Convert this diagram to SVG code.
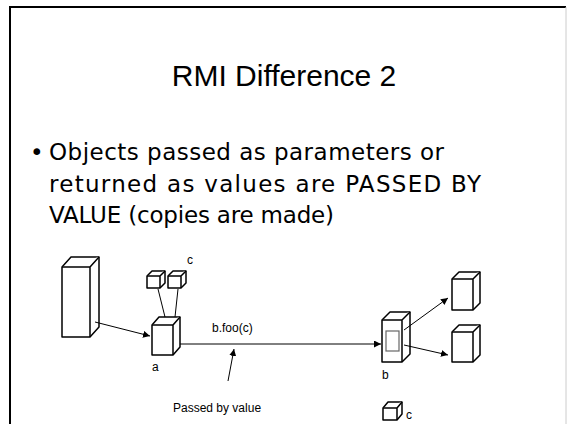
<svg xmlns="http://www.w3.org/2000/svg" width="569" height="424" viewBox="0 0 569 424">
  <style>
    .box { fill: #fff; stroke: #000; stroke-width: 1.5; stroke-linejoin: round; }
    .inner { fill: #fff; stroke: #666; stroke-width: 1.2; }
    .wire { fill: none; stroke: #000; stroke-width: 1; }
    .lbl { font-family: "Liberation Sans", Arial, sans-serif; font-size: 12px; fill: #000; }
    .title { font-family: "Liberation Sans", Arial, sans-serif; font-size: 30px; fill: #000; }
    .body { font-family: "DejaVu Sans", "Liberation Sans", sans-serif; font-size: 23px; fill: #000; }
  </style>
  <defs>
    <marker id="arrow" viewBox="0 0 10 10" refX="10" refY="5" markerWidth="7" markerHeight="7" markerUnits="userSpaceOnUse" orient="auto">
      <path d="M0,0 L10,5 L0,10 z" fill="#000"/>
    </marker>
  </defs>

  <rect width="569" height="424" fill="#fff"/>
  <!-- slide frame -->
  <path d="M10,424 L10,7 L566,7" fill="none" stroke="#000" stroke-width="2"/>
  <line x1="566" y1="7" x2="566" y2="424" stroke="#ccc" stroke-width="1"/>

  <g id="title">
    <text class="title" x="284" y="86" text-anchor="middle">RMI Difference 2</text>
  </g>

  <g id="bullets">
    <text class="body" x="30" y="160">•</text>
    <text class="body" x="49" y="160" textLength="395">Objects passed as parameters or</text>
    <text class="body" x="49" y="192" textLength="432">returned as values are PASSED BY</text>
    <text class="body" x="49" y="223" textLength="285">VALUE (copies are made)</text>
  </g>

  <!-- client box -->
  <g id="client">
    <path class="box" d="M62,267 L71,257 L99,257 L99,327 L90,337 L62,337 Z"/>
    <path class="box" d="M62,267 L90,267 L99,257 M90,267 L90,337"/>
  </g>

  <!-- stub a -->
  <g id="a">
    <path class="box" d="M152,325 L159,317 L180,317 L180,347 L173,355 L152,355 Z"/>
    <path class="box" d="M152,325 L173,325 L180,317 M173,325 L173,355"/>
    <text class="lbl" x="152" y="371">a</text>
  </g>

  <!-- argument objects c -->
  <g id="c-args">
    <path class="box" d="M147,276 L152,271 L165,271 L165,283 L160,288 L147,288 Z"/>
    <path class="box" d="M147,276 L160,276 L165,271 M160,276 L160,288"/>
    <path class="box" d="M168,276 L173,271 L186,271 L186,283 L181,288 L168,288 Z"/>
    <path class="box" d="M168,276 L181,276 L186,271 M181,276 L181,288"/>
    <text class="lbl" x="187" y="264">c</text>
  </g>

  <!-- skeleton b -->
  <g id="b">
    <path class="box" d="M382,320 L390,312 L410,312 L410,354 L402,362 L382,362 Z"/>
    <path class="box" d="M382,320 L402,320 L410,312 M402,320 L402,362"/>
    <rect class="inner" x="386" y="331" width="13" height="20"/>
    <text class="lbl" x="382" y="379">b</text>
  </g>

  <!-- server objects -->
  <g id="server-1">
    <path class="box" d="M452,279 L459,272 L480,272 L480,303 L473,310 L452,310 Z"/>
    <path class="box" d="M452,279 L473,279 L480,272 M473,279 L473,310"/>
  </g>
  <g id="server-2">
    <path class="box" d="M452,332 L459,325 L480,325 L480,355 L473,362 L452,362 Z"/>
    <path class="box" d="M452,332 L473,332 L480,325 M473,332 L473,362"/>
  </g>

  <!-- copied c on the server -->
  <g id="c-copy">
    <path class="box" d="M383,408 L388,402 L402,402 L402,414 L397,420 L383,420 Z"/>
    <path class="box" d="M383,408 L397,408 L402,402 M397,408 L397,420"/>
    <text class="lbl" x="406" y="419">c</text>
  </g>

  <g id="note">
    <text class="lbl" x="173" y="412">Passed by value</text>
  </g>

  <g id="connectors">
    <line class="wire" x1="95" y1="322" x2="150" y2="336" marker-end="url(#arrow)"/>
    <line class="wire" x1="158" y1="289" x2="165" y2="317"/>
    <line class="wire" x1="178" y1="289" x2="175" y2="317"/>
    <line class="wire" x1="180" y1="344" x2="381" y2="344" marker-end="url(#arrow)"/>
    <text class="lbl" x="212" y="332">b.foo(c)</text>
    <line class="wire" x1="228" y1="381" x2="234" y2="349" marker-end="url(#arrow)"/>
    <line class="wire" x1="404" y1="330" x2="448" y2="298" marker-end="url(#arrow)"/>
    <line class="wire" x1="404" y1="345" x2="448" y2="355" marker-end="url(#arrow)"/>
  </g>
</svg>
